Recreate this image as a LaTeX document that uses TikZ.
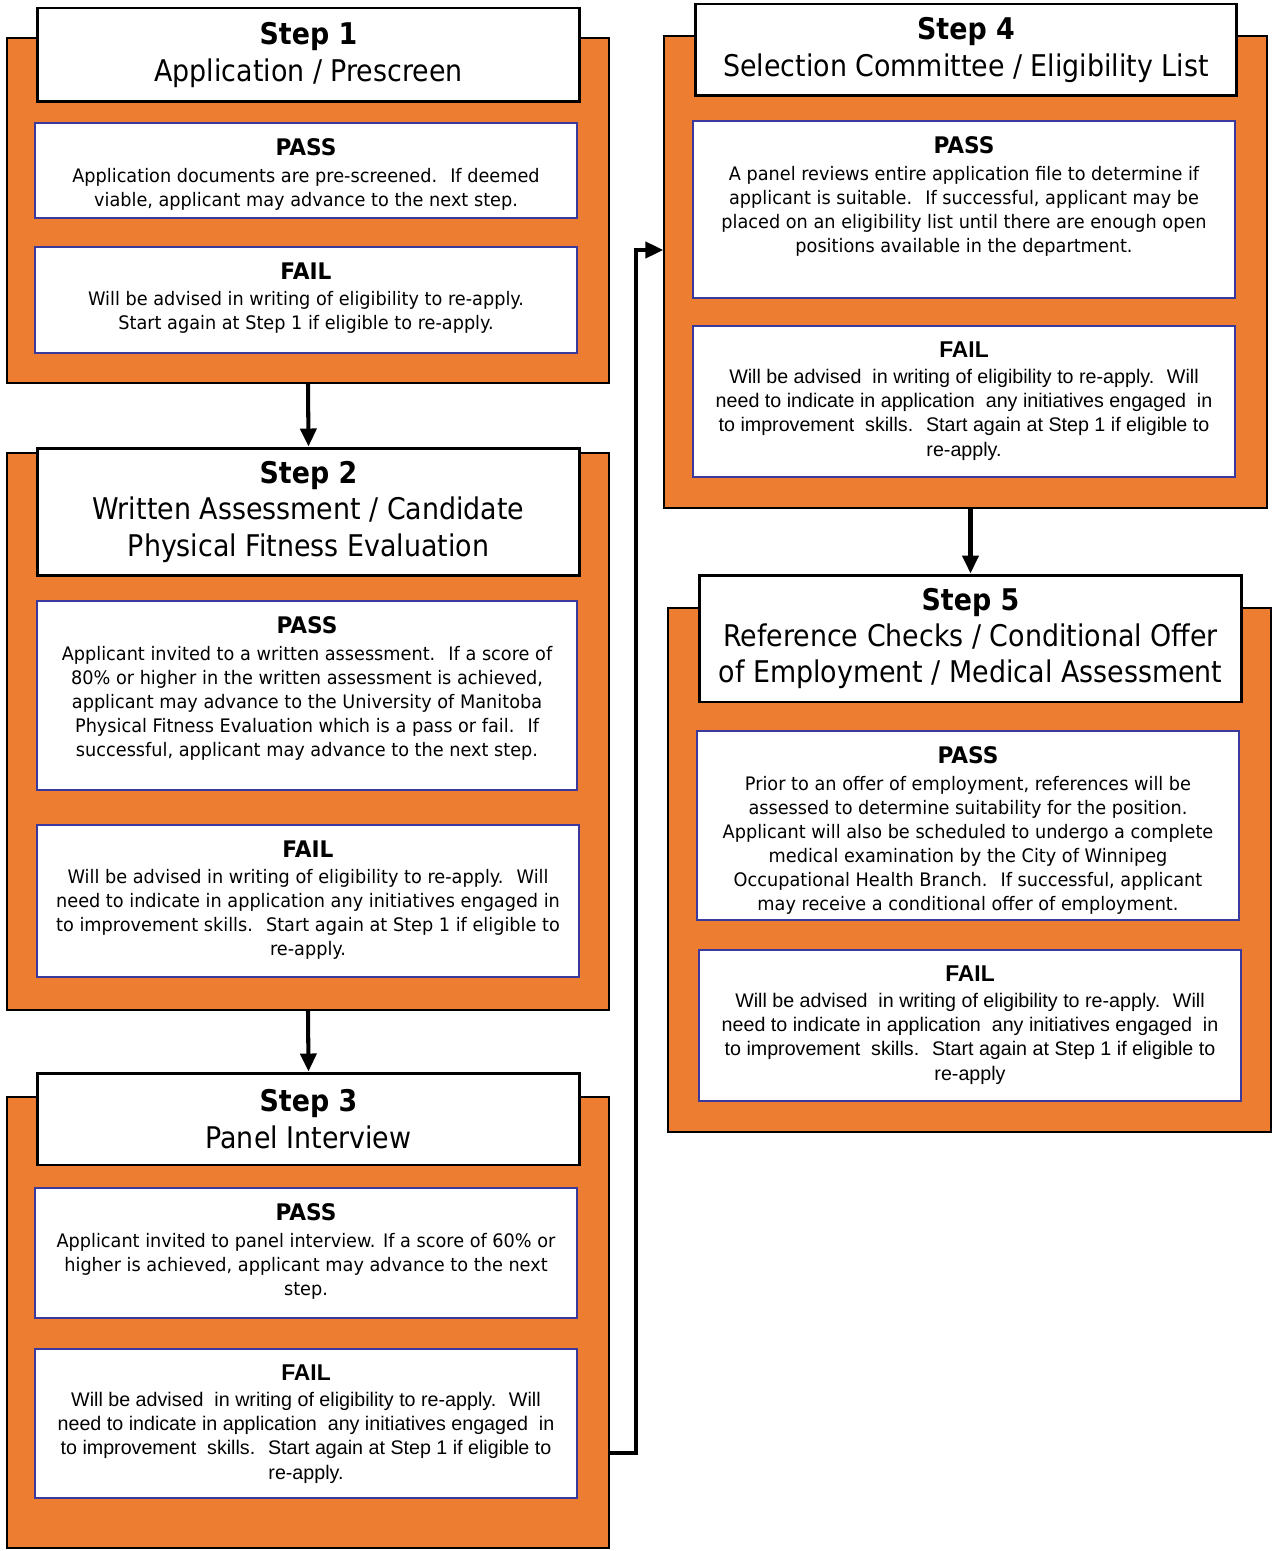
\documentclass[tikz,border=0pt]{standalone}
\usepackage{fontspec}
\setmainfont{DejaVu Sans}[FakeStretch=0.9]
\newfontfamily\bodyfam{DejaVu Sans}[FakeStretch=0.95]
\newfontfamily\arialfam{Liberation Sans}
\usetikzlibrary{arrows.meta,positioning}

\definecolor{stepOrange}{HTML}{ED7D31}
\definecolor{boxBlue}{HTML}{3A3A9E}

\tikzset{
	orangebg/.style={shape=rectangle, draw=black, line width=0.8pt, fill=stepOrange, minimum width=12.05cm},
	titlebox/.style={shape=rectangle, draw=black, line width=1.7pt, fill=white, align=center, inner sep=0pt, minimum width=10.86cm, font=\fontsize{17}{20.7}\selectfont},
	resultbox/.style={shape=rectangle, draw=boxBlue, line width=1.1pt, fill=white, minimum width=10.84cm},
	resulttext/.style={align=center, inner sep=0pt, font=\bodyfam\fontsize{10.6}{13.7}\selectfont},
	arialtext/.style={resulttext, font=\arialfam\fontsize{11.2}{13.7}\selectfont},
	flowarrow/.style={line width=2.3pt, -{Triangle[length=0.36cm, width=0.32cm]}},
}
\newcommand{\passhead}{{\fontsize{13}{15}\selectfont\bfseries PASS}\\[1.5pt]}
\newcommand{\failhead}{{\fontsize{13}{15}\selectfont\bfseries FAIL}\\[1.5pt]}

\begin{document}
\begin{tikzpicture}[x=0.02cm, y=-0.02cm]
	\useasboundingbox (0,0) rectangle (1273,1551);
	% Step 1
	\node[orangebg, minimum height=6.9cm] (s1bg) at (308, 210.5){};
	\node[titlebox, minimum height=1.88cm] (s1title) at (308.5, 55){\textbf{Step 1}\\Application / Prescreen};
	\node[resultbox, minimum height=1.9cm] (s1pass) at (306, 170.5){};
	\node[resultbox, minimum height=2.12cm] (s1fail) at (306, 300){};
	\node[resulttext, below=0.32cm of s1pass.north] (s1passtext){\passhead Application documents are pre-screened.~ If deemed\\viable, applicant may advance to the next step.};
	\node[resulttext, below=0.32cm of s1fail.north] (s1failtext){\failhead Will be advised in writing of eligibility to re-apply.\\Start again at Step 1 if eligible to re-apply.};
	% Step 2
	\node[orangebg, minimum height=11.14cm] (s2bg) at (308, 731.5){};
	\node[titlebox, minimum height=2.56cm] (s2title) at (308.5, 512){\textbf{Step 2}\\Written Assessment / Candidate\\Physical Fitness Evaluation};
	\node[resultbox, minimum width=10.8cm, minimum height=3.78cm] (s2pass) at (307, 695.5){};
	\node[resultbox, minimum height=3.04cm] (s2fail) at (308, 901){};
	\node[resulttext, below=0.32cm of s2pass.north] (s2passtext){\passhead Applicant invited to a written assessment.~ If a score of\\80\% or higher in the written assessment is achieved,\\applicant may advance to the University of Manitoba\\Physical Fitness Evaluation which is a pass or fail.~ If\\successful, applicant may advance to the next step.};
	\node[resulttext, below=0.32cm of s2fail.north] (s2failtext){\failhead Will be advised in writing of eligibility to re-apply.~ Will\\need to indicate in application any initiatives engaged in\\to improvement skills.~ Start again at Step 1 if eligible to\\re-apply.};
	% Step 3
	\node[orangebg, minimum height=9.02cm] (s3bg) at (308, 1322.5){};
	\node[titlebox, minimum height=1.84cm] (s3title) at (308.5, 1119){\textbf{Step 3}\\Panel Interview};
	\node[resultbox, minimum height=2.6cm] (s3pass) at (306, 1253){};
	\node[resultbox, minimum height=2.98cm] (s3fail) at (306, 1423.5){};
	\node[resulttext, below=0.32cm of s3pass.north] (s3passtext){\passhead Applicant invited to panel interview. If a score of 60\% or\\higher is achieved, applicant may advance to the next\\step.};
	\node[arialtext, below=0.32cm of s3fail.north] (s3failtext){\failhead Will be advised\ \ in writing of eligibility to re-apply.~ Will\\need to indicate in application\ \ any initiatives engaged\ \ in\\to improvement\ \ skills.~ Start again at Step 1 if eligible to\\re-apply.};
	% Step 4
	\node[orangebg, minimum width=12.06cm, minimum height=9.44cm] (s4bg) at (965.5, 272){};
	\node[titlebox, minimum width=10.84cm, minimum height=1.84cm] (s4title) at (966, 50){\textbf{Step 4}\\Selection Committee / Eligibility List};
	\node[resultbox, minimum height=3.54cm] (s4pass) at (964, 209.5){};
	\node[resultbox, minimum height=3.02cm] (s4fail) at (964, 401.5){};
	\node[resulttext, below=0.32cm of s4pass.north] (s4passtext){\passhead A panel reviews entire application file to determine if\\applicant is suitable.~ If successful, applicant may be\\placed on an eligibility list until there are enough open\\positions available in the department.};
	\node[arialtext, below=0.32cm of s4fail.north] (s4failtext){\failhead Will be advised\ \ in writing of eligibility to re-apply.~ Will\\need to indicate in application\ \ any initiatives engaged\ \ in\\to improvement\ \ skills.~ Start again at Step 1 if eligible to\\re-apply.};
	% Step 5
	\node[orangebg, minimum width=12.06cm, minimum height=10.48cm] (s5bg) at (969.5, 870){};
	\node[titlebox, minimum height=2.54cm] (s5title) at (970.5, 638.5){\textbf{Step 5}\\Reference Checks / Conditional Offer\\of Employment / Medical Assessment};
	\node[resultbox, minimum height=3.78cm] (s5pass) at (968, 825.5){};
	\node[resultbox, minimum height=3.02cm] (s5fail) at (970, 1025.5){};
	\node[resulttext, below=0.32cm of s5pass.north] (s5passtext){\passhead Prior to an offer of employment, references will be\\assessed to determine suitability for the position.\\Applicant will also be scheduled to undergo a complete\\medical examination by the City of Winnipeg\\Occupational Health Branch.~ If successful, applicant\\may receive a conditional offer of employment.};
	\node[arialtext, below=0.32cm of s5fail.north] (s5failtext){\failhead Will be advised\ \ in writing of eligibility to re-apply.~ Will\\need to indicate in application\ \ any initiatives engaged\ \ in\\to improvement\ \ skills.~ Start again at Step 1 if eligible to\\re-apply};
	% Arrows
	\draw[flowarrow] (s1bg.south) -- (s2title.north);
	\draw[flowarrow] (s2bg.south) -- (s3title.north);
	\draw[flowarrow] (s5title.north |- s4bg.south) -- (s5title.north);
	\coordinate (lowbend) at (636, 1453);
	\coordinate (highbend) at (636, 250);
	\draw[flowarrow] (s3bg.east |- lowbend) -- (lowbend) -- (highbend) -- (s4bg.west |- highbend);
\end{tikzpicture}
\end{document}
